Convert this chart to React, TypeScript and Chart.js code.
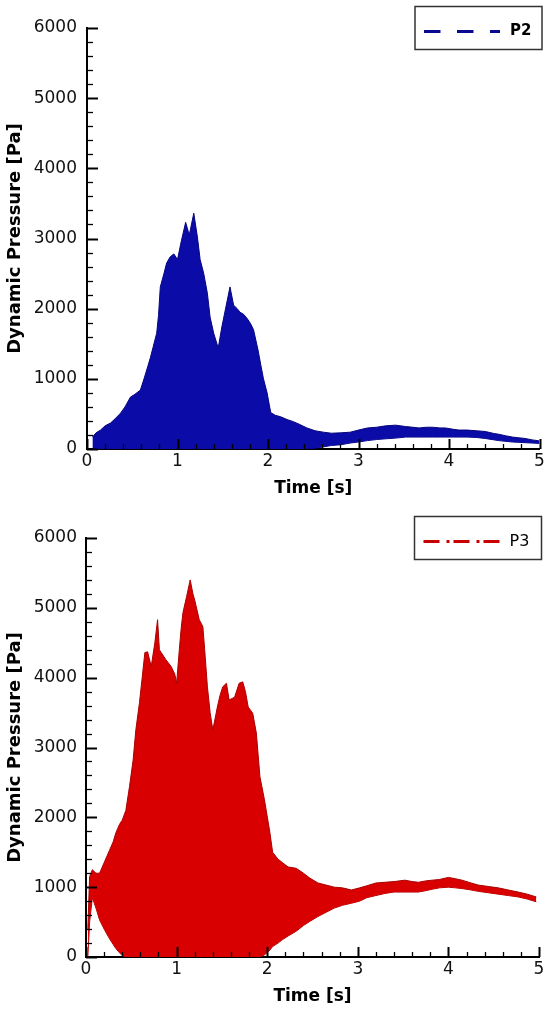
import React, { useEffect, useRef } from 'react';
import { Chart, registerables } from 'chart.js';

Chart.register(...registerables);

// ---------- data ----------
const X_MIN = 0;
const X_MAX = 5;
const X_MAJOR = 1;
const X_MINOR = 0.2;
const Y_MIN = 0;
const Y_MAX = 6000;
const Y_MAJOR = 1000;
const Y_MINOR = 200;

const X_TITLE = 'Time [s]';
const Y_TITLE = 'Dynamic Pressure [Pa]';

// P2 : envelope of the oscillating signal (upper / lower bound)
const P2_TIME = [
  0.06, 0.10, 0.15, 0.20, 0.26, 0.31, 0.37, 0.42, 0.48, 0.53,
  0.59, 0.63, 0.67, 0.70, 0.73, 0.77, 0.79, 0.81, 0.85, 0.88,
  0.92, 0.96, 1.00, 1.04, 1.09, 1.13, 1.18, 1.22, 1.25, 1.29,
  1.33, 1.36, 1.40, 1.45, 1.49, 1.55, 1.58, 1.62, 1.66, 1.69,
  1.73, 1.77, 1.81, 1.84, 1.89, 1.92, 1.95, 1.99, 2.03, 2.08,
  2.14, 2.21, 2.28, 2.35, 2.43, 2.52, 2.61, 2.70, 2.80, 2.91,
  3.00, 3.10, 3.20, 3.30, 3.41, 3.52, 3.60, 3.67, 3.75, 3.82,
  3.90, 3.96, 4.05, 4.11, 4.20, 4.30, 4.40, 4.50, 4.55, 4.62,
  4.70, 4.77, 4.84, 4.92, 5.00,
];
const P2_UPPER = [
  170, 230, 270, 330, 370, 430, 510, 600, 740, 780,
  840, 1000, 1170, 1300, 1450, 1650, 1900, 2310, 2500, 2650,
  2740, 2780, 2700, 2950, 3230, 3050, 3360, 3020, 2700, 2500,
  2220, 1880, 1650, 1440, 1740, 2120, 2310, 2050, 2000, 1950,
  1920, 1860, 1780, 1700, 1410, 1200, 1000, 800, 520, 480,
  460, 420, 390, 350, 300, 260, 240, 225, 230, 240,
  270, 300, 310, 330, 340, 320, 310, 300, 310, 310,
  300, 300, 280, 270, 270, 260, 250, 220, 210, 190,
  170, 160, 150, 130, 115,
];
const P2_LOWER = [
  0, 0, 0, 0, 0, 0, 0, 0, 0, 0,
  0, 0, 0, 0, 0, 0, 0, 0, 0, 0,
  0, 0, 0, 0, 0, 0, 0, 0, 0, 0,
  0, 0, 0, 0, 0, 0, 0, 0, 0, 0,
  0, 0, 0, 0, 0, 0, 0, 0, 0, 0,
  0, 0, 0, 0, 0, 10, 30, 50, 60, 85,
  100, 120, 135, 145, 155, 170, 170, 170, 170, 170,
  170, 170, 170, 170, 170, 165, 150, 130, 120, 110,
  100, 95, 90, 85, 80,
];

// P3 : envelope of the oscillating signal (upper / lower bound)
const P3_TIME = [
  0.02, 0.04, 0.07, 0.11, 0.15, 0.20, 0.26, 0.30, 0.33, 0.37,
  0.40, 0.44, 0.48, 0.52, 0.55, 0.59, 0.62, 0.65, 0.68, 0.72,
  0.76, 0.79, 0.81, 0.83, 0.88, 0.94, 0.98, 1.00, 1.03, 1.05,
  1.07, 1.11, 1.15, 1.18, 1.20, 1.25, 1.29, 1.31, 1.34, 1.37,
  1.40, 1.45, 1.48, 1.51, 1.55, 1.58, 1.61, 1.64, 1.69, 1.73,
  1.76, 1.79, 1.84, 1.88, 1.92, 1.97, 2.03, 2.06, 2.12, 2.17,
  2.23, 2.32, 2.40, 2.47, 2.56, 2.65, 2.74, 2.83, 2.93, 3.02,
  3.10, 3.20, 3.30, 3.40, 3.52, 3.60, 3.67, 3.75, 3.82, 3.90,
  4.00, 4.08, 4.15, 4.25, 4.33, 4.44, 4.55, 4.66, 4.77, 4.87,
  4.97,
];
const P3_UPPER = [
  400, 1150, 1250, 1200, 1200, 1350, 1530, 1650, 1780, 1900,
  1960, 2100, 2440, 2820, 3250, 3640, 4000, 4360, 4370, 4160,
  4500, 4830, 4400, 4360, 4260, 4160, 4050, 3920, 4400, 4700,
  4930, 5160, 5400, 5200, 5110, 4830, 4730, 4400, 3870, 3500,
  3250, 3580, 3750, 3870, 3920, 3680, 3700, 3720, 3920, 3940,
  3800, 3580, 3490, 3210, 2580, 2250, 1780, 1500, 1400, 1350,
  1290, 1270, 1200, 1130, 1060, 1030, 1000, 990, 960, 990,
  1020, 1060, 1070, 1080, 1100, 1080, 1070, 1090, 1100, 1110,
  1140, 1120, 1100, 1060, 1030, 1010, 990, 960, 930, 900,
  860,
];
const P3_LOWER = [
  0, 500, 850, 700, 530, 400, 260, 180, 120, 60,
  20, 0, 0, 0, 0, 0, 0, 0, 0, 0,
  0, 0, 0, 0, 0, 0, 0, 0, 0, 0,
  0, 0, 0, 0, 0, 0, 0, 0, 0, 0,
  0, 0, 0, 0, 0, 0, 0, 0, 0, 0,
  0, 0, 0, 0, 0, 30, 100, 150, 200, 250,
  300, 370, 450, 510, 580, 640, 700, 740, 770, 800,
  850, 880, 910, 930, 930, 930, 930, 950, 970, 990,
  1000, 990, 980, 960, 940, 920, 900, 880, 860, 830,
  790,
];

// ---------- plugins ----------
const inwardTicks = {
  id: 'inwardTicks',
  afterDatasetsDraw(chart: any) {
    const { ctx, chartArea, scales } = chart;
    const xs = scales.x;
    const ys = scales.y;
    ctx.save();
    ctx.strokeStyle = '#000';
    const nY = Math.round((Y_MAX - Y_MIN) / Y_MINOR);
    for (let i = 0; i <= nY; i++) {
      const v = Y_MIN + i * Y_MINOR;
      const major = Math.abs((v / Y_MAJOR) - Math.round(v / Y_MAJOR)) < 1e-6;
      const py = Math.round(ys.getPixelForValue(v)) + 0.5;
      ctx.lineWidth = major ? 2 : 1.3;
      ctx.beginPath();
      ctx.moveTo(chartArea.left, py);
      ctx.lineTo(chartArea.left + (major ? 11 : 6), py);
      ctx.stroke();
    }
    const nX = Math.round((X_MAX - X_MIN) / X_MINOR);
    for (let i = 0; i <= nX; i++) {
      const v = X_MIN + i * X_MINOR;
      const major = Math.abs((v / X_MAJOR) - Math.round(v / X_MAJOR)) < 1e-6;
      const px = Math.round(xs.getPixelForValue(v)) + 0.5;
      ctx.lineWidth = major ? 2 : 1.3;
      ctx.beginPath();
      ctx.moveTo(px, chartArea.bottom);
      ctx.lineTo(px, chartArea.bottom - (major ? 10 : 5));
      ctx.stroke();
    }
    ctx.restore();
  },
};

const boxLegend = {
  id: 'boxLegend',
  afterDraw(chart: any, _args: any, opts: any) {
    const { ctx, chartArea } = chart;
    const ds = chart.data.datasets[0];
    const w = 127;
    const h = 43;
    const left = chartArea.right - 124.5;
    const top = chartArea.top - 21.5;
    ctx.save();
    ctx.fillStyle = '#fff';
    ctx.fillRect(left, top, w, h);
    ctx.strokeStyle = '#333';
    ctx.lineWidth = 1.5;
    ctx.strokeRect(left, top, w, h);
    const ly = top + 25;
    ctx.strokeStyle = opts.color;
    ctx.lineWidth = 3;
    ctx.setLineDash(opts.dash);
    ctx.beginPath();
    ctx.moveTo(left + 9, ly);
    ctx.lineTo(left + 85, ly);
    ctx.stroke();
    ctx.setLineDash([]);
    ctx.fillStyle = '#000';
    ctx.font = opts.font;
    ctx.textAlign = 'left';
    ctx.textBaseline = 'middle';
    ctx.fillText(ds.label, left + 95, ly);
    ctx.restore();
  },
};

type Panel = {
  time: number[];
  upper: number[];
  lower: number[];
  label: string;
  fill: string;
  edge: string;
  legendColor: string;
  dash: number[];
  legendFont: string;
  padTop: number;
  padRight: number;
  yWidth: number;
  xHeight: number;
  yLabelPad: number;
  xLabelPad: number;
  xTitlePad: number;
  yTitlePad: number;
};

const TICK_FONT = { family: '"DejaVu Sans", sans-serif', size: 17, weight: 'normal' as const };
const TITLE_FONT_X = { family: '"DejaVu Sans", sans-serif', size: 17, weight: 'bold' as const };
const TITLE_FONT_Y = { family: '"DejaVu Sans", sans-serif', size: 18, weight: 'bold' as const };

function makeConfig(p: Panel): any {
  const upperPts = p.time.map((t, i) => ({ x: t, y: p.upper[i] }));
  const lowerPts = p.time.map((t, i) => ({ x: t, y: p.lower[i] }));
  return {
    type: 'line',
    data: {
      datasets: [
        {
          label: p.label,
          data: upperPts,
          borderColor: p.edge,
          backgroundColor: p.fill,
          borderWidth: 1,
          pointRadius: 0,
          tension: 0,
          fill: '+1',
        },
        {
          label: p.label + ' (min)',
          data: lowerPts,
          borderColor: p.edge,
          backgroundColor: p.fill,
          borderWidth: 1,
          pointRadius: 0,
          tension: 0,
          fill: false,
        },
      ],
    },
    options: {
      animation: false,
      responsive: false,
      layout: { padding: { top: p.padTop, right: p.padRight, bottom: 0, left: 0 } },
      plugins: {
        legend: { display: false },
        tooltip: { enabled: false },
        boxLegend: { color: p.legendColor, dash: p.dash, font: p.legendFont },
      },
      scales: {
        x: {
          type: 'linear',
          min: X_MIN,
          max: X_MAX,
          grid: { display: false, drawTicks: false },
          border: { display: true, color: '#000', width: 2 },
          ticks: {
            stepSize: X_MAJOR,
            color: '#111',
            font: TICK_FONT,
            padding: p.xLabelPad,
            maxRotation: 0,
            callback: (v: number) => String(v),
          },
          title: {
            display: true,
            text: X_TITLE,
            color: '#000',
            font: TITLE_FONT_X,
            padding: { top: 0, bottom: p.xTitlePad },
          },
          afterFit: (s: any) => {
            s.height = p.xHeight;
            s.paddingLeft = 0;
            s.paddingRight = 0;
          },
        },
        y: {
          type: 'linear',
          min: Y_MIN,
          max: Y_MAX,
          grid: { display: false, drawTicks: false },
          border: { display: true, color: '#000', width: 2 },
          ticks: {
            stepSize: Y_MAJOR,
            color: '#111',
            font: TICK_FONT,
            padding: p.yLabelPad,
            callback: (v: number) => String(v),
          },
          title: {
            display: true,
            text: Y_TITLE,
            color: '#000',
            font: TITLE_FONT_Y,
            padding: { top: p.yTitlePad, bottom: 0 },
          },
          afterFit: (s: any) => {
            s.width = p.yWidth;
            s.paddingTop = 0;
            s.paddingBottom = 0;
          },
        },
      },
    },
    plugins: [inwardTicks, boxLegend],
  };
}

const PANELS: Panel[] = [
  {
    time: P2_TIME,
    upper: P2_UPPER,
    lower: P2_LOWER,
    label: 'P2',
    fill: '#0b0ba8',
    edge: '#06067e',
    legendColor: '#0a0a90',
    dash: [16.5, 16.5],
    legendFont: 'bold 15px "DejaVu Sans", sans-serif',
    padTop: 28,
    padRight: 4.5,
    yWidth: 87,
    xHeight: 56,
    yLabelPad: 10,
    xLabelPad: 2,
    xTitlePad: 6,
    yTitlePad: 5,
  },
  {
    time: P3_TIME,
    upper: P3_UPPER,
    lower: P3_LOWER,
    label: 'P3',
    fill: '#d80000',
    edge: '#a80000',
    legendColor: '#c80000',
    dash: [16, 7, 3, 4],
    legendFont: 'normal 16px "DejaVu Sans", sans-serif',
    padTop: 33,
    padRight: 5,
    yWidth: 86,
    xHeight: 53,
    yLabelPad: 9,
    xLabelPad: 2,
    xTitlePad: 3,
    yTitlePad: 5,
  },
];

function PanelChart({ panel }: { panel: Panel }) {
  const ref = useRef<HTMLCanvasElement | null>(null);
  useEffect(() => {
    if (!ref.current) return;
    const chart = new Chart(ref.current, makeConfig(panel));
    return () => chart.destroy();
  }, [panel]);
  return (
    <div style={{ width: 544, height: 505, position: 'relative' }}>
      <canvas ref={ref} width={544} height={505} style={{ display: 'block', width: 544, height: 505 }} />
    </div>
  );
}

export default function App() {
  return (
    <div style={{ position: 'absolute', left: 0, top: 0, width: 544, height: 1010, background: '#fff' }}>
      {PANELS.map((p) => (
        <PanelChart key={p.label} panel={p} />
      ))}
    </div>
  );
}
